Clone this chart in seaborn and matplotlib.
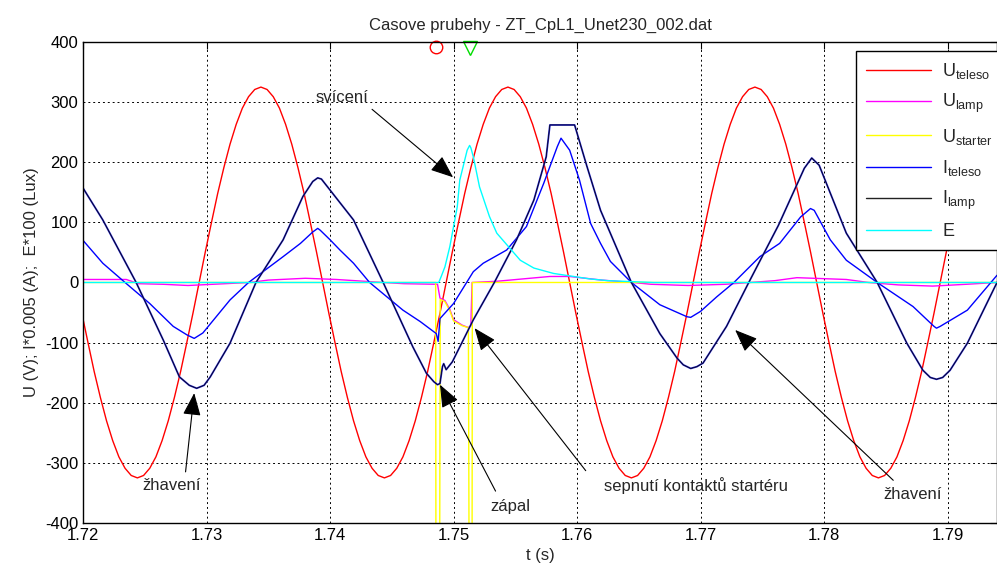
import numpy as np
import pandas as pd
import matplotlib
matplotlib.use('Agg')
import matplotlib.pyplot as plt
import seaborn as sns
from matplotlib.lines import Line2D

# ── data ──────────────────────────────────────────────────────────────────────
# U_teleso: sampled every 0.5 ms starting at 1.7199 s
u_teleso_t0 = 1.7199
u_teleso_dt = 0.0005
u_teleso = [
    -51, -100, -148, -191, -230, -263, -290, -309, -321, -325, -321, -309, -290, -263, -230, -191, -148, -100, -51, 0,
    51, 100, 148, 191, 230, 263, 290, 309, 321, 325, 321, 309, 290, 263, 230, 191, 148, 100, 51, 0,
    -51, -100, -148, -191, -230, -263, -290, -309, -321, -325, -321, -309, -290, -263, -230, -191, -148, -100, -51, 0,
    51, 100, 148, 191, 230, 263, 290, 309, 321, 325, 321, 309, 290, 263, 230, 191, 148, 100, 51, 0,
    -51, -100, -148, -191, -230, -263, -290, -309, -321, -325, -321, -309, -290, -263, -230, -191, -148, -100, -51, 0,
    51, 100, 148, 191, 230, 263, 290, 309, 321, 325, 321, 309, 290, 263, 230, 191, 148, 100, 51, 0,
    -51, -100, -148, -191, -230, -263, -290, -309, -321, -325, -321, -309, -290, -263, -230, -191, -148, -100, -51, 0,
    51, 100, 148, 191, 230, 263, 290, 309, 321, 325,
]

u_lamp_t = [1.7200, 1.7235, 1.7245, 1.7265, 1.7285, 1.7305, 1.7335, 1.7350, 1.7380, 1.7405, 1.7443,
            1.7460, 1.7487, 1.7489, 1.7493, 1.7497, 1.7500, 1.7507, 1.7512, 1.7514, 1.7515,
            1.7535, 1.7551, 1.7578, 1.7594, 1.7620, 1.7645, 1.7660, 1.7690, 1.7720, 1.7740,
            1.7760, 1.7778, 1.7818, 1.7836, 1.7860, 1.7888, 1.7915, 1.7940]
u_lamp = [5, 5, -2, -3, -5, -3, 0, 4, 7, 5, 0,
          -2, -3, -26, -30, -45, -62, -71, -75, -72, 0,
          2, 5, 10, 10, 4, 0, -3, -5, -3, 0,
          3, 8, 5, 0, -4, -6, -3, 0]

u_starter_t = [1.7200, 1.74855, 1.74857, 1.74888, 1.74892, 1.7493, 1.7497, 1.7500, 1.7507,
               1.7512, 1.75125, 1.75150, 1.75152, 1.7940]
u_starter = [0, 0, -420, -420, -28, -32, -47, -64, -72,
             -75, -420, -420, 0, 0]

i_teleso_t = [1.7200, 1.7216, 1.7234, 1.7254, 1.7273, 1.7284, 1.7290, 1.7297, 1.7319, 1.7334,
              1.7362, 1.7376, 1.7386, 1.7390, 1.7392, 1.7400, 1.7408, 1.7419, 1.7432, 1.7459,
              1.7473, 1.7486, 1.74875, 1.7489, 1.7500, 1.7516, 1.7524, 1.7543, 1.7559, 1.7573,
              1.7584, 1.7587, 1.7594, 1.7602, 1.7611, 1.7619, 1.7627, 1.7644, 1.7667, 1.7689,
              1.7692, 1.7700, 1.7713, 1.7727, 1.7748, 1.7764, 1.7781, 1.7789, 1.7792, 1.7805,
              1.7818, 1.7843, 1.7872, 1.7889, 1.7891, 1.7894, 1.7916, 1.7940]
i_teleso = [70, 32, 0, -35, -73, -87, -93, -84, -29, 0,
            43, 65, 84, 90, 87, 71, 54, 32, 0, -46,
            -65, -85, -98, -60, -35, 18, 32, 54, 93, 165,
            226, 240, 220, 170, 98, 65, 35, 0, -37, -57,
            -58, -48, -24, 0, 43, 65, 109, 123, 120, 71,
            37, 0, -40, -73, -76, -73, -46, 12]

i_lamp_t = [1.7200, 1.7216, 1.7243, 1.7265, 1.7278, 1.7286, 1.7292, 1.7298, 1.7303, 1.7319,
            1.7340, 1.7362, 1.7378, 1.7386, 1.7390, 1.7393, 1.7419, 1.7443, 1.7467, 1.7478,
            1.7484, 1.7487, 1.7489, 1.7491, 1.7492, 1.7494, 1.7499, 1.7516, 1.7533, 1.7551,
            1.7565, 1.7575, 1.7578, 1.7598, 1.7608, 1.7619, 1.7644, 1.7667, 1.7681, 1.7686,
            1.7692, 1.7697, 1.7702, 1.7721, 1.7739, 1.7763, 1.7784, 1.7790, 1.7796, 1.7818,
            1.7843, 1.7867, 1.7880, 1.7886, 1.7891, 1.7896, 1.7902, 1.7916, 1.7940]
i_lamp = [157, 104, 0, -96, -157, -171, -176, -171, -157, -101,
          0, 71, 143, 168, 174, 172, 104, 0, -107, -151,
          -165, -170, -168, -140, -135, -145, -132, -62, 0, 71,
          137, 209, 262, 262, 193, 120, 0, -85, -126, -137,
          -143, -140, -134, -73, 0, 95, 190, 207, 195, 82,
          0, -101, -146, -158, -161, -158, -146, -101, 0]

e_t = [1.7200, 1.7488, 1.7490, 1.7493, 1.7497, 1.7500, 1.7503, 1.7505, 1.7511, 1.7513,
       1.7514, 1.7516, 1.7521, 1.7529, 1.7535, 1.7554, 1.7565, 1.7581, 1.7594, 1.7610,
       1.7625, 1.7662, 1.7940]
e_lux = [0, 0, 10, 26, 60, 93, 126, 170, 220, 228,
         224, 209, 159, 110, 82, 37, 24, 15, 11, 6,
         3, 0, 0]

# trigger markers (circle = zapal, triangle = sepnuti)
mark_t = [1.74858, 1.75134]
mark_v = [392, 390]

# annotations: text, text position, arrow tail, arrow tip
notes = [
    ('svícení', (1.7410, 307), (1.7434, 288), (1.74996, 175)),
    ('žhavení', (1.7272, -337), (1.7283, -315), (1.7290, -184)),
    ('zápal', (1.7546, -373), (1.7534, -347), (1.7489, -170)),
    ('sepnutí kontaktů startéru', (1.7696, -337), (1.7607, -313), (1.7517, -76)),
    ('žhavení', (1.7872, -353), (1.7856, -329), (1.7728, -79)),
]

# ── style ─────────────────────────────────────────────────────────────────────
sns.set_style('white')
plt.rcParams['font.family'] = ['Liberation Sans', 'DejaVu Sans']
plt.rcParams['mathtext.fontset'] = 'custom'
plt.rcParams['mathtext.rm'] = 'Liberation Sans'
plt.rcParams['axes.unicode_minus'] = False

fig = plt.figure(figsize=(9.97, 5.72), dpi=100)
ax = fig.add_axes([0.0833, 0.0857, 0.9167, 0.8409])

t_u = u_teleso_t0 + u_teleso_dt * np.arange(len(u_teleso))
df_u = pd.DataFrame({'t': t_u, 'v': u_teleso})

kw = dict(ax=ax, sort=False, estimator=None, lw=1.0)
sns.lineplot(data=df_u, x='t', y='v', color='#ff0000', **kw)
sns.lineplot(x=u_lamp_t, y=u_lamp, color='#ff00ff', **kw)
sns.lineplot(x=u_starter_t, y=u_starter, color='#ffff00', **kw)
sns.lineplot(x=i_teleso_t, y=i_teleso, color='#0000ff', **kw)
# I_lamp looks navy in the reference: blue underlay with a black core
sns.lineplot(x=i_lamp_t, y=i_lamp, color='#2828d0', ax=ax, sort=False, estimator=None, lw=1.3)
sns.lineplot(x=i_lamp_t, y=i_lamp, color='#000000', ax=ax, sort=False, estimator=None, lw=0.5)
sns.lineplot(x=e_t, y=e_lux, color='#00ffff', **kw)

ax.plot(mark_t[0], mark_v[0], marker='o', ms=9, mfc='none', mec='#ff0000', mew=1, clip_on=False)
ax.plot(mark_t[1], mark_v[1], marker='v', ms=10, mfc='none', mec='#00dd00', mew=1, clip_on=False)

for txt, pos, tail, tip in notes:
    ax.text(pos[0], pos[1], txt, ha='center', va='center', fontsize=12)
    ax.annotate('', xy=tip, xytext=tail,
                arrowprops=dict(arrowstyle='-|>,head_length=1.0,head_width=0.4',
                                color='k', lw=0.8, mutation_scale=14, shrinkA=0, shrinkB=0))

ax.set_xlim(1.72, 1.794)
ax.set_ylim(-400, 400)
ax.set_xticks(np.arange(1.72, 1.7901, 0.01))
ax.set_xticklabels(['1.72', '1.73', '1.74', '1.75', '1.76', '1.77', '1.78', '1.79'])
ax.set_yticks(np.arange(-400, 401, 100))
ax.grid(True, color='k', linestyle=(0, (2, 3)), lw=0.7)
ax.tick_params(direction='in', top=True, right=True, length=5, labelsize=12, colors='k')
for s in ax.spines.values():
    s.set_color('k')
    s.set_linewidth(1.0)

ax.set_title('Casove prubehy - ZT_CpL1_Unet230_002.dat', fontsize=12, pad=9)
ax.set_xlabel('t (s)', fontsize=12)
ax.set_ylabel('U (V); I*0.005 (A);  E*100 (Lux)', fontsize=12)

labels = [r'U$_\mathregular{teleso}$', r'U$_\mathregular{lamp}$', r'U$_\mathregular{starter}$',
          r'I$_\mathregular{teleso}$', r'I$_\mathregular{lamp}$', 'E']
colors = ['#ff0000', '#ff00ff', '#ffff00', '#0000ff', '#222222', '#00ffff']
handles = [Line2D([], [], color=c, lw=1.0) for c in colors]
leg = ax.legend(handles, labels, loc='upper left', bbox_to_anchor=(0.846, 0.981),
                borderaxespad=0, fontsize=13, handlelength=3.6, handletextpad=0.6,
                labelspacing=0.62, borderpad=0.55, fancybox=False, framealpha=1, edgecolor='k')
leg.get_frame().set_linewidth(1.0)

fig.savefig('out.png', dpi=100)
